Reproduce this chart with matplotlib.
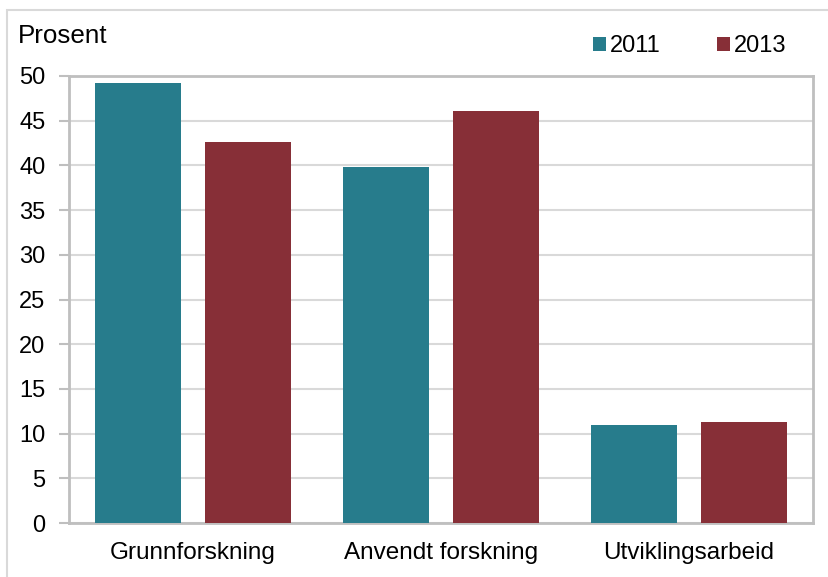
import matplotlib
matplotlib.use("Agg")
import matplotlib.pyplot as plt
import numpy as np
from matplotlib.patches import Rectangle

plt.rcParams["font.family"] = ["Liberation Sans", "DejaVu Sans"]

# data
kategorier = ["Grunnforskning", "Anvendt forskning", "Utviklingsarbeid"]
serier = ["2011", "2013"]
verdier_2011 = [49.2, 39.8, 11.0]
verdier_2013 = [42.6, 46.1, 11.3]
farger = ["#277C8C", "#872F37"]
yticks = list(range(0, 51, 5))

fig = plt.figure(figsize=(8.29, 5.77), dpi=100)
ax = fig.add_axes([69 / 829, 1 - 523 / 577, (813 - 69) / 829, (523 - 76) / 577])

x = np.arange(len(kategorier))
w = 0.347
off = 0.222
b1 = ax.bar(x - off, verdier_2011, w, color=farger[0], label=serier[0], zorder=3)
b2 = ax.bar(x + off, verdier_2013, w, color=farger[1], label=serier[1], zorder=3)

ax.set_xlim(-0.5, len(kategorier) - 0.5)
ax.set_ylim(0, 50)
ax.set_yticks(yticks)
ax.set_xticks(x)
ax.set_xticklabels(kategorier, fontsize=17.5)
ax.tick_params(axis="x", length=0, pad=14)
ax.tick_params(axis="y", length=7, width=1.5, color="#bfbfbf", labelsize=17, pad=10)
ax.grid(axis="y", color="#d9d9d9", linewidth=1.5, zorder=0)
ax.set_axisbelow(True)
for s in ax.spines.values():
    s.set_color("#bfbfbf")
    s.set_linewidth(2)

fig.text(18 / 829, 1 - 36 / 577, "Prosent", fontsize=18.7, ha="left", va="center")

fig.legend(handles=[b1, b2], labels=serier, loc="center left",
           bbox_to_anchor=(593 / 829, 1 - 46 / 577), ncol=2, frameon=False,
           fontsize=17, handlelength=0.55, handleheight=0.55, handletextpad=0.15,
           columnspacing=2.4, borderaxespad=0, borderpad=0)

# outer frame
fig.patches.append(Rectangle((7 / 829, -0.1), 1.2, 1.1 - 10 / 577,
                             transform=fig.transFigure, fill=False,
                             edgecolor="#d9d9d9", linewidth=1.5))

fig.savefig("out.png", dpi=100)
